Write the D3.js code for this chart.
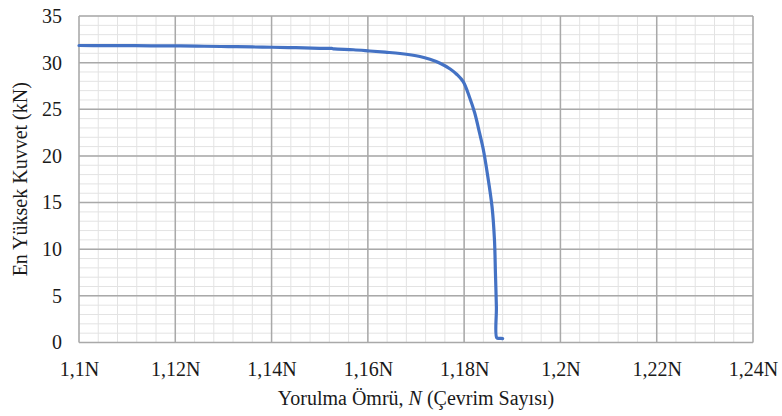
<!DOCTYPE html>
<html><head><meta charset="utf-8"><script src="https://cdn.jsdelivr.net/npm/d3@7"></script></head>
<body style="margin:0">
<svg id="chart" width="782" height="416" font-family="Liberation Serif"></svg>
<script>
// Fatigue test: peak force per cycle vs. fatigue life
const cycles = [1.1000, 1.1050, 1.1100, 1.1150, 1.1210, 1.1260, 1.1310, 1.1360, 1.1401, 1.1450,
                1.1500, 1.1525, 1.1530, 1.1570, 1.1604, 1.1636, 1.1667, 1.1708, 1.1729, 1.1750,
                1.1771, 1.1785, 1.1798, 1.1811, 1.1822, 1.1832, 1.1840, 1.1848, 1.1858, 1.1863,
                1.1865, 1.1867, 1.1868, 1.1874, 1.1880];
const peakForce = [31.84, 31.83, 31.82, 31.80, 31.79, 31.76, 31.72, 31.68, 31.65, 31.60,
                   31.54, 31.52, 31.47, 31.38, 31.25, 31.12, 30.98, 30.66, 30.36, 29.94,
                   29.32, 28.73, 27.96, 26.32, 24.60, 22.46, 20.64, 18.18, 14.53, 10.99,
                   7.45, 3.81, 0.48, 0.45, 0.42];

const xTicks = [1.10, 1.12, 1.14, 1.16, 1.18, 1.20, 1.22, 1.24];
const xTickLabels = ["1,1N", "1,12N", "1,14N", "1,16N", "1,18N", "1,2N", "1,22N", "1,24N"];
const yTicks = [0, 5, 10, 15, 20, 25, 30, 35];

const FONT = "Liberation Serif";
const INK = "#1a1a1a";
const svg = d3.select("#chart");
const plot = { left: 79, right: 753, top: 16, bottom: 342.5 };

const x = d3.scaleLinear().domain([1.10, 1.24]).range([plot.left, plot.right]);
const y = d3.scaleLinear().domain([0, 35]).range([plot.bottom, plot.top]);

// minor grid
const xMinor = d3.range(0, 36).map(i => 1.10 + i * 0.004);
const yMinor = d3.range(0, 36);
const grid = svg.append("g");
grid.selectAll("line.xm").data(xMinor).join("line").attr("class", "xm")
  .attr("x1", d => x(d)).attr("x2", d => x(d)).attr("y1", plot.top).attr("y2", plot.bottom)
  .attr("stroke", "#e3e3e3").attr("stroke-width", 1);
grid.selectAll("line.ym").data(yMinor).join("line").attr("class", "ym")
  .attr("y1", d => y(d)).attr("y2", d => y(d)).attr("x1", plot.left).attr("x2", plot.right)
  .attr("stroke", "#e3e3e3").attr("stroke-width", 1);

// major grid
grid.selectAll("line.xM").data(xTicks).join("line").attr("class", "xM")
  .attr("x1", d => x(d)).attr("x2", d => x(d)).attr("y1", plot.top).attr("y2", plot.bottom)
  .attr("stroke", "#a9a9a9").attr("stroke-width", 1.5);
grid.selectAll("line.yM").data(yTicks).join("line").attr("class", "yM")
  .attr("y1", d => y(d)).attr("y2", d => y(d)).attr("x1", plot.left).attr("x2", plot.right)
  .attr("stroke", "#a9a9a9").attr("stroke-width", 1.5);

// axes (labels only); the axis groups get the serif face instead of D3's sans-serif default
const xAxis = d3.axisBottom(x).tickValues(xTicks)
  .tickFormat((d, i) => xTickLabels[i]).tickSize(0).tickPadding(19);
svg.append("g").attr("transform", `translate(0,${plot.bottom})`).call(xAxis)
  .attr("font-family", FONT).attr("font-size", 20)
  .call(g => g.select(".domain").remove())
  .selectAll("text").attr("font-family", FONT).style("font-family", FONT).attr("fill", INK);

const yAxis = d3.axisLeft(y).tickValues(yTicks).tickSize(0).tickPadding(17);
svg.append("g").attr("transform", `translate(${plot.left},0)`).call(yAxis)
  .attr("font-family", FONT).attr("font-size", 20)
  .call(g => g.select(".domain").remove())
  .selectAll("text").attr("font-family", FONT).style("font-family", FONT).attr("fill", INK);

// data line
svg.append("path").datum(peakForce)
  .attr("d", d3.line().x((d, i) => x(cycles[i])).y(d => y(d)).curve(d3.curveCatmullRom.alpha(0.5)))
  .attr("fill", "none").attr("stroke", "#4472C4").attr("stroke-width", 3.2)
  .attr("stroke-linejoin", "round").attr("stroke-linecap", "round");

// axis titles
const xt = svg.append("text").attr("x", 416).attr("y", 405).attr("text-anchor", "middle")
  .attr("font-family", FONT).style("font-family", FONT).style("font-size", "20px").attr("fill", INK);
xt.append("tspan").text("Yorulma Ömrü, ");
xt.append("tspan").style("font-style", "italic").text("N");
xt.append("tspan").text(" (Çevrim Sayısı)");

svg.append("text").attr("transform", `translate(27,${(plot.top + plot.bottom) / 2}) rotate(-90)`)
  .attr("text-anchor", "middle").attr("font-family", FONT).style("font-family", FONT)
  .style("font-size", "20px").attr("fill", INK).text("En Yüksek Kuvvet (kN)");
</script>
</body>
</html>
